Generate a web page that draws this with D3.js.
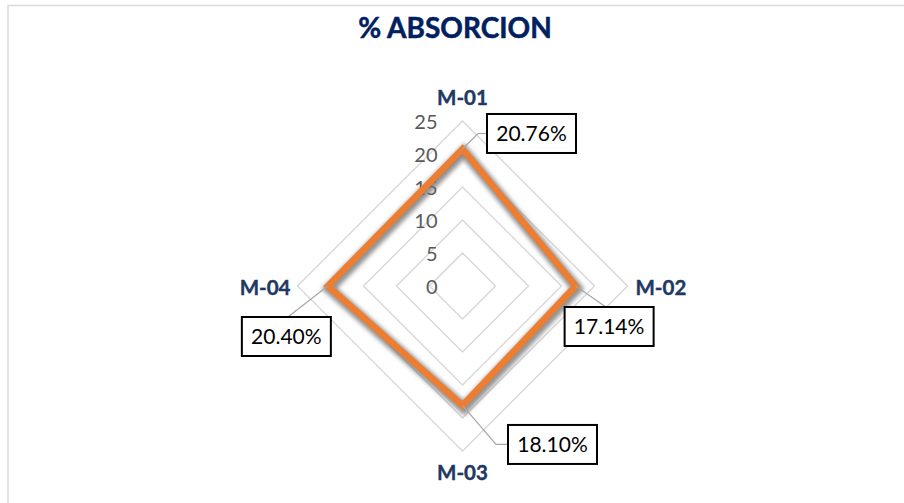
<!DOCTYPE html>
<html>
<head>
<meta charset="utf-8">
<script src="https://cdn.jsdelivr.net/npm/d3@7"></script>
<style>
  html, body { margin: 0; padding: 0; background: #fff; }
  svg { display: block; }
</style>
</head>
<body>
<div id="chart"></div>
<script>
// --- data ---
const categories = ["M-01", "M-02", "M-03", "M-04"];
const absorcion = [20.76, 17.14, 18.10, 20.40];
const valueLabels = ["20.76%", "17.14%", "18.10%", "20.40%"];
const ticks = [0, 5, 10, 15, 20, 25];

// --- layout ---
const width = 904, height = 503;
const cx = 462.5, cy = 286, R = 165;
const navy = "#1f3864";
const font = "Lato, 'Open Sans', sans-serif";

const svg = d3.select("#chart").append("svg")
    .attr("width", width)
    .attr("height", height);

const defs = svg.append("defs");
defs.append("filter")
    .attr("id", "blur")
    .attr("x", "-20%").attr("y", "-20%")
    .attr("width", "140%").attr("height", "140%")
    .append("feGaussianBlur")
    .attr("stdDeviation", 2.2);

svg.append("rect")
    .attr("width", width).attr("height", height)
    .attr("fill", "#fff");

// chart area border (only top/left visible)
svg.append("path")
    .attr("d", `M8,${height + 5}V5.5H${width + 5}`)
    .attr("fill", "none")
    .attr("stroke", "#d9d9d9")
    .attr("stroke-width", 1.5);

// title
svg.append("text")
    .attr("x", 455)
    .attr("y", 38)
    .attr("text-anchor", "middle")
    .attr("font-family", font)
    .attr("font-weight", "bold")
    .attr("font-size", 28)
    .attr("stroke", "#002060")
    .attr("stroke-width", 0.5)
    .attr("fill", "#002060")
    .text("% ABSORCION");

// --- scales ---
const r = d3.scaleLinear().domain([0, 25]).range([0, R]);
const angle = d3.scalePoint().domain(categories).range([0, 2 * Math.PI * 3 / 4]);
const pt = (cat, v) => {
    const a = angle(cat) - Math.PI / 2;
    return [cx + r(v) * Math.cos(a), cy + r(v) * Math.sin(a)];
};

const g = svg.append("g");

// grid diamonds
ticks.filter(t => t > 0).forEach(t => {
    g.append("path")
        .attr("d", d3.line()(categories.map(c => pt(c, t))) + "Z")
        .attr("fill", "none")
        .attr("stroke", "#d9d9d9")
        .attr("stroke-width", 1.5);
});

// tick labels
g.selectAll(".tick")
    .data(ticks)
    .join("text")
    .attr("x", cx - 25)
    .attr("y", d => cy - r(d) + 7.5)
    .attr("text-anchor", "end")
    .attr("font-family", font)
    .attr("font-size", 20)
    .attr("fill", "#595959")
    .text(d => d);

// series line + soft shadow
const seriesPath = d3.line()(categories.map((c, i) => pt(c, absorcion[i]))) + "Z";
g.append("path")
    .attr("d", seriesPath)
    .attr("transform", "translate(1.5,2.5)")
    .attr("fill", "none")
    .attr("stroke", "#6f6f6f")
    .attr("stroke-opacity", 0.75)
    .attr("stroke-width", 11)
    .attr("stroke-linejoin", "miter")
    .attr("filter", "url(#blur)");
g.append("path")
    .attr("d", seriesPath)
    .attr("fill", "none")
    .attr("stroke", "#ed7d31")
    .attr("stroke-width", 6.5)
    .attr("stroke-linejoin", "miter");

// category labels
const catPos = [
    { dx: 0, dy: -181, anchor: "middle" },
    { dx: 173, dy: 9, anchor: "start" },
    { dx: 0, dy: 194, anchor: "middle" },
    { dx: -172, dy: 9, anchor: "end" }
];
g.selectAll(".cat")
    .data(categories)
    .join("text")
    .attr("x", (d, i) => cx + catPos[i].dx)
    .attr("y", (d, i) => cy + catPos[i].dy)
    .attr("text-anchor", (d, i) => catPos[i].anchor)
    .attr("font-family", font)
    .attr("font-weight", "bold")
    .attr("font-size", 20.5)
    .attr("stroke", navy)
    .attr("stroke-width", 0.4)
    .attr("fill", navy)
    .text(d => d);

// data labels with leader lines
const boxW = 89, boxH = 39;
const lab = [
    { dx: 24.5 + boxW / 2, dy: -15.5, leader: p => [p, [p[0] + 15.5, p[1] - 15.5], [p[0] + 24.5, p[1] - 15.5]] },
    { dx: 33.5, dy: 40.5, leader: p => [p, [p[0] + 31, p[1] + 21.5]] },
    { dx: 90, dy: 39, leader: p => [p, [p[0] + 33.5, p[1] + 39], [p[0] + 45.5, p[1] + 39]] },
    { dx: -41.5, dy: 50.5, leader: p => [p, [p[0] - 40, p[1] + 31]] }
];

categories.forEach((c, i) => {
    const p = pt(c, absorcion[i]);
    const bx = p[0] + lab[i].dx, by = p[1] + lab[i].dy;
    g.append("path")
        .attr("d", d3.line()(lab[i].leader(p)))
        .attr("fill", "none")
        .attr("stroke", "#a6a6a6")
        .attr("stroke-width", 1.2);
    g.append("rect")
        .attr("x", bx - boxW / 2)
        .attr("y", by - boxH / 2)
        .attr("width", boxW)
        .attr("height", boxH)
        .attr("fill", "#fff")
        .attr("stroke", "#000")
        .attr("stroke-width", 2);
    g.append("text")
        .attr("x", bx)
        .attr("y", by + 7.5)
        .attr("text-anchor", "middle")
        .attr("font-family", font)
        .attr("font-size", 21)
        .attr("fill", "#000")
        .text(valueLabels[i]);
});
</script>
</body>
</html>
